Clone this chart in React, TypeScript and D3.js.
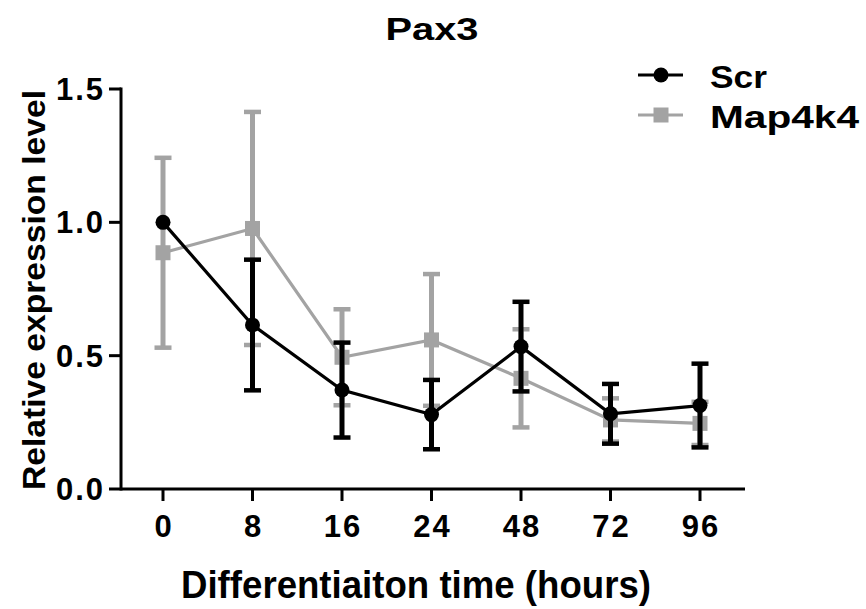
import React from "react";
import * as d3 from "d3";

const categories = ["0", "8", "16", "24", "48", "72", "96"];
const scrMean = [1.0, 0.615, 0.371, 0.279, 0.534, 0.282, 0.313];
const scrErr = [0, 0.245, 0.178, 0.13, 0.168, 0.112, 0.157];
const mapMean = [0.886, 0.977, 0.494, 0.559, 0.415, 0.259, 0.246];
const mapErr = [0.356, 0.437, 0.18, 0.247, 0.184, 0.081, 0.081];
const yTicks = [0, 0.5, 1.0, 1.5];
const title = "Pax3";
const xLabel = "Differentiaiton time (hours)";
const yLabel = "Relative expression level";
const seriesNames = ["Scr", "Map4k4"];

const W = 866;
const H = 609;
const FONT = "'Liberation Sans', Arial, Helvetica, sans-serif";
const BLACK = "#000";
const GREY = "#a3a3a3";

export default function App() {
  const x = d3.scalePoint<string>().domain(categories).range([163, 700]);
  const y = d3.scaleLinear().domain([0, 1.5]).range([489, 89]);
  const line = d3
    .line<number>()
    .x((_, i) => x(categories[i]) as number)
    .y((d) => y(d));

  const series = [
    { name: seriesNames[1], mean: mapMean, err: mapErr, color: GREY, shape: "square" },
    { name: seriesNames[0], mean: scrMean, err: scrErr, color: BLACK, shape: "circle" },
  ];

  const capW = 17;

  return (
    <div style={{ position: "absolute", left: 0, top: 0 }}>
      <svg width={W} height={H} style={{ display: "block", background: "#fff" }}>
        <text
          x={432}
          y={40}
          textAnchor="middle"
          fontFamily={FONT}
          fontWeight="bold"
          fontSize={31}
          textLength={93}
          lengthAdjust="spacingAndGlyphs"
        >
          {title}
        </text>

        {series.map((s) => (
          <g key={s.name}>
            {s.mean.map((m, i) => {
              const cx = x(categories[i]) as number;
              if (s.err[i] <= 0) return null;
              const t = y(m + s.err[i]);
              const b = y(m - s.err[i]);
              return (
                <g key={i} stroke={s.color} strokeWidth={5}>
                  <line x1={cx} x2={cx} y1={t} y2={b} />
                  <line x1={cx - capW / 2} x2={cx + capW / 2} y1={t} y2={t} strokeWidth={4.5} />
                  <line x1={cx - capW / 2} x2={cx + capW / 2} y1={b} y2={b} strokeWidth={4.5} />
                </g>
              );
            })}
            <path d={line(s.mean) || ""} fill="none" stroke={s.color} strokeWidth={3.2} />
            {s.mean.map((m, i) => {
              const cx = x(categories[i]) as number;
              const cy = y(m);
              return s.shape === "circle" ? (
                <circle key={i} cx={cx} cy={cy} r={7.5} fill={s.color} />
              ) : (
                <rect key={i} x={cx - 7.5} y={cy - 7.5} width={15} height={15} fill={s.color} />
              );
            })}
          </g>
        ))}

        <line x1={121} x2={121} y1={y(1.5) - 1.5} y2={y(0) + 1.5} stroke={BLACK} strokeWidth={3} />
        {yTicks.map((t) => (
          <g key={t}>
            <line x1={109} x2={121} y1={y(t)} y2={y(t)} stroke={BLACK} strokeWidth={3} />
            <text
              x={105}
              y={y(t) + 11}
              textAnchor="end"
              fontFamily={FONT}
              fontWeight="bold"
              fontSize={31}
              letterSpacing={2}
            >
              {d3.format(".1f")(t)}
            </text>
          </g>
        ))}

        <line x1={121} x2={745} y1={489} y2={489} stroke={BLACK} strokeWidth={3} />
        {categories.map((c) => (
          <g key={c}>
            <line
              x1={x(c) as number}
              x2={x(c) as number}
              y1={489}
              y2={501}
              stroke={BLACK}
              strokeWidth={3}
            />
            <text
              x={(x(c) as number) + 1}
              y={537}
              textAnchor="middle"
              fontFamily={FONT}
              fontWeight="bold"
              fontSize={31}
              letterSpacing={2}
            >
              {c}
            </text>
          </g>
        ))}

        <text
          x={416}
          y={598}
          textAnchor="middle"
          fontFamily={FONT}
          fontWeight="bold"
          fontSize={38}
          textLength={470}
          lengthAdjust="spacingAndGlyphs"
        >
          {xLabel}
        </text>
        <text
          transform={`translate(45, 290) rotate(-90)`}
          textAnchor="middle"
          fontFamily={FONT}
          fontWeight="bold"
          fontSize={31}
          textLength={400}
          lengthAdjust="spacingAndGlyphs"
        >
          {yLabel}
        </text>

        <g>
          <line x1={638} x2={683} y1={75} y2={75} stroke={BLACK} strokeWidth={3} />
          <circle cx={661} cy={75} r={7.5} fill={BLACK} />
          <text
            x={710}
            y={88}
            fontFamily={FONT}
            fontWeight="bold"
            fontSize={31}
            textLength={57}
            lengthAdjust="spacingAndGlyphs"
          >
            {seriesNames[0]}
          </text>
          <line x1={638} x2={683} y1={115} y2={115} stroke={GREY} strokeWidth={3} />
          <rect x={653.5} y={107.5} width={15} height={15} fill={GREY} />
          <text
            x={710}
            y={128}
            fontFamily={FONT}
            fontWeight="bold"
            fontSize={31}
            textLength={149}
            lengthAdjust="spacingAndGlyphs"
          >
            {seriesNames[1]}
          </text>
        </g>
      </svg>
    </div>
  );
}
